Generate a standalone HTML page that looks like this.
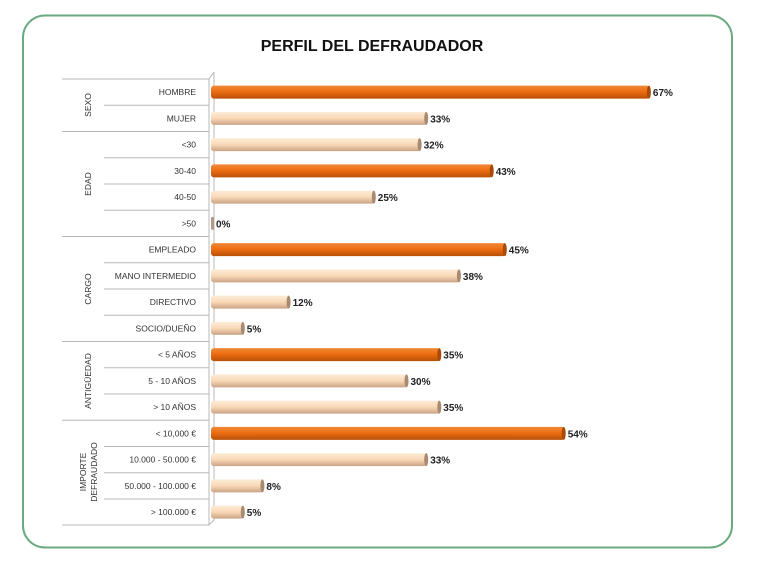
<!DOCTYPE html><html><head><meta charset="utf-8"><style>body{margin:0;background:#fff}svg{display:block}text{font-family:"Liberation Sans",sans-serif}</style></head><body>
<svg width="758" height="568" xmlns="http://www.w3.org/2000/svg">
<defs>
<linearGradient id="o" x1="0" y1="0" x2="0" y2="1"><stop offset="0" stop-color="#f08a3a"/><stop offset="0.45" stop-color="#ee6e10"/><stop offset="1" stop-color="#b8500a"/></linearGradient>
<linearGradient id="p" x1="0" y1="0" x2="0" y2="1"><stop offset="0" stop-color="#fdecd8"/><stop offset="0.5" stop-color="#f9d8b6"/><stop offset="1" stop-color="#c9a385"/></linearGradient>
</defs>
<rect x="23" y="15.5" width="709" height="532" rx="22" fill="#fff" stroke="#6aaa80" stroke-width="2"/>
<text x="372" y="51" text-anchor="middle" font-size="16" font-weight="bold" fill="#111">PERFIL DEL DEFRAUDADOR</text>
<g stroke="#b8b8b8" stroke-width="1">
<line x1="209" y1="79" x2="209" y2="525"/><line x1="209" y1="79" x2="214" y2="72"/><line x1="214" y1="72" x2="214" y2="520"/><line x1="209" y1="525" x2="214" y2="520"/>
<line x1="62" y1="79" x2="209" y2="79"/><line x1="62" y1="131.5" x2="209" y2="131.5"/><line x1="62" y1="236.5" x2="209" y2="236.5"/><line x1="62" y1="341.5" x2="209" y2="341.5"/><line x1="62" y1="420.2" x2="209" y2="420.2"/><line x1="62" y1="525" x2="209" y2="525"/>
<line x1="104" y1="105.2" x2="209" y2="105.2"/>
<line x1="104" y1="157.7" x2="209" y2="157.7"/><line x1="104" y1="184" x2="209" y2="184"/><line x1="104" y1="210.2" x2="209" y2="210.2"/>
<line x1="104" y1="262.7" x2="209" y2="262.7"/><line x1="104" y1="289" x2="209" y2="289"/><line x1="104" y1="315.2" x2="209" y2="315.2"/>
<line x1="104" y1="367.7" x2="209" y2="367.7"/><line x1="104" y1="394" x2="209" y2="394"/>
<line x1="104" y1="446.5" x2="209" y2="446.5"/><line x1="104" y1="472.7" x2="209" y2="472.7"/><line x1="104" y1="499" x2="209" y2="499"/>
</g>
<g font-size="8.5" fill="#333" text-anchor="middle">
<text transform="translate(91,105) rotate(-90)">SEXO</text>
<text transform="translate(91,184) rotate(-90)">EDAD</text>
<text transform="translate(91,289) rotate(-90)">CARGO</text>
<text transform="translate(91,381) rotate(-90)">ANTIGÜEDAD</text>
<text transform="translate(86,472) rotate(-90)">IMPORTE</text>
<text transform="translate(97,472) rotate(-90)">DEFRAUDADO</text>
</g>
<g font-size="8.5" fill="#333" text-anchor="end">
<text x="196" y="95.1">HOMBRE</text>
<text x="196" y="121.4">MUJER</text>
<text x="196" y="147.6">&lt;30</text>
<text x="196" y="173.9">30-40</text>
<text x="196" y="200.1">40-50</text>
<text x="196" y="226.4">&gt;50</text>
<text x="196" y="252.6">EMPLEADO</text>
<text x="196" y="278.9">MANO INTERMEDIO</text>
<text x="196" y="305.1">DIRECTIVO</text>
<text x="196" y="331.4">SOCIO/DUEÑO</text>
<text x="196" y="357.6">&lt; 5 AÑOS</text>
<text x="196" y="383.9">5 - 10 AÑOS</text>
<text x="196" y="410.1">&gt; 10 AÑOS</text>
<text x="196" y="436.4">&lt; 10,000 €</text>
<text x="196" y="462.6">10.000 - 50.000 €</text>
<text x="196" y="488.9">50.000 - 100.000 €</text>
<text x="196" y="515.1">&gt; 100.000 €</text>
</g>
<g>
<rect x="211" y="85.6" width="438.9" height="13" rx="3" fill="url(#o)"/><ellipse cx="648.9" cy="92.1" rx="2" ry="6.5" fill="#a84a08"/>
<rect x="211" y="111.9" width="216.2" height="13" rx="3" fill="url(#p)"/><ellipse cx="426.2" cy="118.4" rx="2" ry="6.5" fill="#a88a70"/>
<rect x="211" y="138.1" width="209.6" height="13" rx="3" fill="url(#p)"/><ellipse cx="419.6" cy="144.6" rx="2" ry="6.5" fill="#a88a70"/>
<rect x="211" y="164.4" width="281.7" height="13" rx="3" fill="url(#o)"/><ellipse cx="491.7" cy="170.9" rx="2" ry="6.5" fill="#a84a08"/>
<rect x="211" y="190.6" width="163.8" height="13" rx="3" fill="url(#p)"/><ellipse cx="373.8" cy="197.1" rx="2" ry="6.5" fill="#a88a70"/>
<rect x="211" y="216.9" width="3" height="13" rx="1.5" fill="#b09a88"/>
<rect x="211" y="243.1" width="294.8" height="13" rx="3" fill="url(#o)"/><ellipse cx="504.8" cy="249.6" rx="2" ry="6.5" fill="#a84a08"/>
<rect x="211" y="269.4" width="248.9" height="13" rx="3" fill="url(#p)"/><ellipse cx="458.9" cy="275.9" rx="2" ry="6.5" fill="#a88a70"/>
<rect x="211" y="295.6" width="78.6" height="13" rx="3" fill="url(#p)"/><ellipse cx="288.6" cy="302.1" rx="2" ry="6.5" fill="#a88a70"/>
<rect x="211" y="321.9" width="32.8" height="13" rx="3" fill="url(#p)"/><ellipse cx="242.8" cy="328.4" rx="2" ry="6.5" fill="#a88a70"/>
<rect x="211" y="348.1" width="229.3" height="13" rx="3" fill="url(#o)"/><ellipse cx="439.3" cy="354.6" rx="2" ry="6.5" fill="#a84a08"/>
<rect x="211" y="374.4" width="196.5" height="13" rx="3" fill="url(#p)"/><ellipse cx="406.5" cy="380.9" rx="2" ry="6.5" fill="#a88a70"/>
<rect x="211" y="400.6" width="229.3" height="13" rx="3" fill="url(#p)"/><ellipse cx="439.3" cy="407.1" rx="2" ry="6.5" fill="#a88a70"/>
<rect x="211" y="426.9" width="353.7" height="13" rx="3" fill="url(#o)"/><ellipse cx="563.7" cy="433.4" rx="2" ry="6.5" fill="#a84a08"/>
<rect x="211" y="453.1" width="216.2" height="13" rx="3" fill="url(#p)"/><ellipse cx="426.2" cy="459.6" rx="2" ry="6.5" fill="#a88a70"/>
<rect x="211" y="479.4" width="52.4" height="13" rx="3" fill="url(#p)"/><ellipse cx="262.4" cy="485.9" rx="2" ry="6.5" fill="#a88a70"/>
<rect x="211" y="505.6" width="32.8" height="13" rx="3" fill="url(#p)"/><ellipse cx="242.8" cy="512.1" rx="2" ry="6.5" fill="#a88a70"/>
</g>
<g font-size="10" font-weight="bold" fill="#222">
<text x="652.9" y="96.1">67%</text>
<text x="430.2" y="122.4">33%</text>
<text x="423.6" y="148.6">32%</text>
<text x="495.7" y="174.9">43%</text>
<text x="377.8" y="201.1">25%</text>
<text x="216" y="227.4">0%</text>
<text x="508.8" y="253.6">45%</text>
<text x="462.9" y="279.9">38%</text>
<text x="292.6" y="306.1">12%</text>
<text x="246.8" y="332.4">5%</text>
<text x="443.3" y="358.6">35%</text>
<text x="410.5" y="384.9">30%</text>
<text x="443.3" y="411.1">35%</text>
<text x="567.7" y="437.4">54%</text>
<text x="430.2" y="463.6">33%</text>
<text x="266.4" y="489.9">8%</text>
<text x="246.8" y="516.1">5%</text>
</g>
</svg></body></html>
